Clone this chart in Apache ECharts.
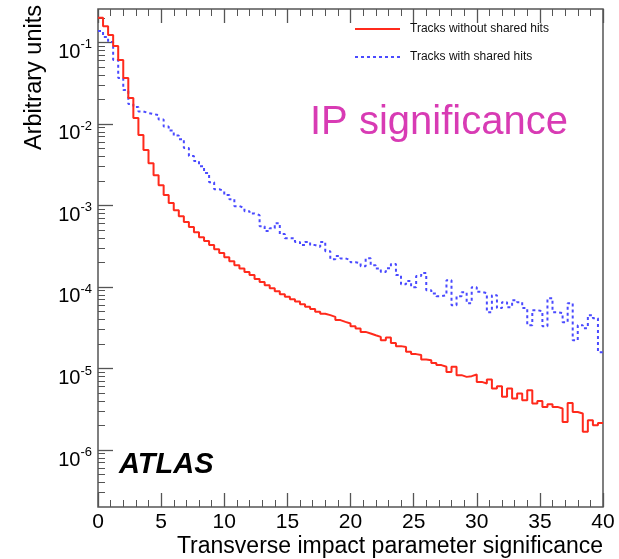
<!DOCTYPE html>
<html>
<head>
<meta charset="utf-8">
<script src="https://cdn.jsdelivr.net/npm/echarts@6/dist/echarts.min.js"></script>
<style>html,body{margin:0;padding:0;background:#fff}#c{width:619px;height:559px}</style>
</head>
<body>
<div id="c"></div>
<script>
// ---------- data ----------
const binLowEdges = [0,0.4,0.8,1.2,1.6,2,2.4,2.8,3.2,3.6,4,4.4,4.8,5.2,5.6,6,6.4,6.8,7.2,7.6,
  8,8.4,8.8,9.2,9.6,10,10.4,10.8,11.2,11.6,12,12.4,12.8,13.2,13.6,14,14.4,14.8,15.2,15.6,
  16,16.4,16.8,17.2,17.6,18,18.4,18.8,19.2,19.6,20,20.4,20.8,21.2,21.6,22,22.4,22.8,23.2,23.6,
  24,24.4,24.8,25.2,25.6,26,26.4,26.8,27.2,27.6,28,28.4,28.8,29.2,29.6,30,30.4,30.8,31.2,31.6,
  32,32.4,32.8,33.2,33.6,34,34.4,34.8,35.2,35.6,36,36.4,36.8,37.2,37.6,38,38.4,38.8,39.2,39.6];
const lastUpperEdge = 40;

const tracksWithoutShared = [0.20,0.158,0.123,0.0901,0.0607,0.0365,0.0207,0.0118,0.00729,0.00477,
  0.00330,0.00235,0.00177,0.00134,0.00107,8.75e-4,7.39e-4,6.24e-4,5.42e-4,4.70e-4,
  4.08e-4,3.65e-4,3.26e-4,2.91e-4,2.60e-4,2.32e-4,2.07e-4,1.85e-4,1.68e-4,1.52e-4,
  1.40e-4,1.25e-4,1.15e-4,1.05e-4,9.66e-5,8.87e-5,8.16e-5,7.60e-5,7.08e-5,6.61e-5,
  6.15e-5,5.73e-5,5.35e-5,4.98e-5,4.70e-5,4.51e-5,4.30e-5,3.92e-5,3.73e-5,3.56e-5,
  3.30e-5,3.10e-5,2.81e-5,2.69e-5,2.56e-5,2.44e-5,2.22e-5,2.40e-5,2.06e-5,1.88e-5,
  1.84e-5,1.60e-5,1.50e-5,1.46e-5,1.29e-5,1.26e-5,1.17e-5,1.10e-5,1.05e-5,9.08e-6,
  1.05e-5,8.28e-6,7.89e-6,8.05e-6,8.44e-6,6.85e-6,6.55e-6,7.33e-6,5.69e-6,6.07e-6,
  4.49e-6,5.69e-6,4.29e-6,4.93e-6,4.08e-6,5.42e-6,3.72e-6,4.00e-6,3.38e-6,3.65e-6,
  3.38e-6,3.23e-6,2.21e-6,3.78e-6,2.93e-6,2.81e-6,1.67e-6,2.32e-6,2.01e-6,2.15e-6];

const tracksWithShared = [0.138,0.116,0.101,0.0607,0.0365,0.0260,0.0175,0.0161,0.0142,0.0136,
  0.0132,0.0128,0.0113,0.00927,0.00828,0.00718,0.00650,0.00505,0.00403,0.00350,
  0.00303,0.00249,0.00193,0.00158,0.00150,0.00134,0.00119,9.80e-4,9.27e-4,8.51e-4,
  7.98e-4,7.60e-4,5.57e-4,4.84e-4,5.26e-4,6.06e-4,4.45e-4,3.97e-4,3.94e-4,3.57e-4,
  3.26e-4,3.57e-4,3.26e-4,3.10e-4,3.57e-4,2.75e-4,2.19e-4,2.39e-4,2.24e-4,2.13e-4,
  2.01e-4,1.96e-4,1.80e-4,2.25e-4,1.85e-4,1.68e-4,1.53e-4,1.69e-4,1.91e-4,1.40e-4,
  1.08e-4,1.18e-4,9.95e-5,1.36e-4,1.48e-4,9.14e-5,8.32e-5,7.71e-5,7.93e-5,1.21e-4,
  5.98e-5,7.71e-5,8.63e-5,6.32e-5,9.95e-5,8.71e-5,8.39e-5,4.91e-5,7.93e-5,5.50e-5,
  6.50e-5,5.65e-5,6.89e-5,6.50e-5,5.50e-5,3.40e-5,5.19e-5,5.05e-5,3.30e-5,7.29e-5,
  4.91e-5,4.77e-5,3.70e-5,6.32e-5,2.22e-5,3.40e-5,3.12e-5,4.51e-5,4.14e-5,1.58e-5];

const seriesNames = ['Tracks without shared hits', 'Tracks with shared hits'];
const xTickValues = [0, 5, 10, 15, 20, 25, 30, 35, 40];
const yTickExponents = [-6, -5, -4, -3, -2, -1];
const yRange = [2.0e-7, 0.2565];
const xTitle = 'Transverse impact parameter significance';
const yTitle = 'Arbitrary units';
// ---------- end data ----------

const FONT = "'Liberation Sans', Arial, Helvetica, sans-serif";
const yMin = Math.log10(yRange[0]), yMax = Math.log10(yRange[1]);

const yMinorTicks = [];
for (let n = -7; n <= 0; n++) {
  for (let k = 2; k <= 9; k++) {
    const v = n + Math.log10(k);
    if (v > yMin && v < yMax) yMinorTicks.push(v);
  }
}

function stepData(vals) {
  const pts = binLowEdges.map((x, i) => [x, Math.log10(vals[i])]);
  pts.push([lastUpperEdge, Math.log10(vals[vals.length - 1])]);
  return pts;
}

// legend icons: a solid line and a dashed line (unit box, stretched by the legend)
const solidIcon = 'path://M0,0H45V2H0Z';
let dashedPath = 'path://';
for (let i = 0; i < 45; i += 6) dashedPath += 'M' + i + ',0H' + (i + 3) + 'V2H' + i + 'Z';
dashedPath += 'M45,0H45.01V2H45Z';

const tickColor = '#555';
const chart = echarts.init(document.getElementById('c'), null, {renderer: 'canvas'});

const xAxisCommon = {
  type: 'value', min: xTickValues[0], max: xTickValues[xTickValues.length - 1], interval: 5,
  axisLine: {show: false},
  axisTick: {inside: true, length: 14, lineStyle: {color: tickColor, width: 1.3}},
  minorTick: {show: true, splitNumber: 5, length: 7, lineStyle: {color: tickColor, width: 1}},
  splitLine: {show: false}, minorSplitLine: {show: false}
};

chart.setOption({
  animation: false,
  textStyle: {fontFamily: FONT},
  grid: {left: 98, right: 16, top: 9, bottom: 52, show: true, borderColor: '#555', borderWidth: 1.5, backgroundColor: 'transparent'},
  legend: {
    orient: 'vertical', left: 355, top: 22, padding: 0,
    itemWidth: 45, itemHeight: 2, itemGap: 14,
    textStyle: {fontSize: 12, color: '#111', fontFamily: FONT, padding: [0, 0, 0, 5], lineHeight: 14},
    data: [
      {name: seriesNames[0], icon: solidIcon},
      {name: seriesNames[1], icon: dashedPath}
    ]
  },
  xAxis: [
    Object.assign({}, xAxisCommon, {
      position: 'bottom',
      axisLabel: {fontSize: 21, color: '#000', margin: 5, fontFamily: FONT},
      name: xTitle, nameLocation: 'end', nameGap: 0,
      nameTextStyle: {fontSize: 23, color: '#000', align: 'right', verticalAlign: 'top', padding: [28, 0, 0, 0], fontFamily: FONT}
    }),
    Object.assign({}, xAxisCommon, {position: 'top', axisLabel: {show: false}})
  ],
  yAxis: [
    {
      type: 'value', min: yMin, max: yMax, position: 'left',
      axisLine: {show: false},
      axisTick: {inside: true, length: 15, customValues: yTickExponents, lineStyle: {color: tickColor, width: 1.3}},
      axisLabel: {
        customValues: yTickExponents, margin: 6, color: '#000',
        formatter: v => '{b|10}{s|' + Math.round(v) + '}',
        rich: {
          b: {fontSize: 20, lineHeight: 20, padding: [20, 0, 0, 0], fontFamily: FONT, color: '#000'},
          s: {fontSize: 13, lineHeight: 13, padding: [16, 0, 11, 0], fontFamily: FONT, color: '#000'}
        }
      },
      splitLine: {show: false}
    },
    {
      type: 'value', min: yMin, max: yMax, position: 'left',
      axisLine: {show: false},
      axisTick: {inside: true, length: 7, customValues: yMinorTicks, lineStyle: {color: tickColor, width: 1}},
      axisLabel: {show: false},
      splitLine: {show: false}
    }
  ],
  graphic: [
    {type: 'text', x: 35, y: 5, rotation: Math.PI / 2,
     style: {text: yTitle, font: '23.5px ' + FONT, fill: '#000', align: 'right', verticalAlign: 'middle'}},
    {type: 'text', x: 310, y: 123,
     style: {text: 'IP significance', font: '40px ' + FONT, fill: '#d83bb4', align: 'left', verticalAlign: 'middle'}},
    {type: 'text', x: 119, y: 465,
     style: {text: 'ATLAS', font: 'italic bold 29px ' + FONT, fill: '#000', align: 'left', verticalAlign: 'middle'}}
  ],
  series: [
    {
      name: seriesNames[0], type: 'line', step: 'end', symbol: 'none',
      xAxisIndex: 0, yAxisIndex: 0, clip: true, z: 3,
      lineStyle: {color: '#ff2a1c', width: 2},
      itemStyle: {color: '#ff2a1c'},
      data: stepData(tracksWithoutShared)
    },
    {
      name: seriesNames[1], type: 'line', step: 'end', symbol: 'none',
      xAxisIndex: 0, yAxisIndex: 0, clip: true, z: 2,
      lineStyle: {color: '#4a4aff', width: 2, type: [3, 3]},
      itemStyle: {color: '#4a4aff'},
      data: stepData(tracksWithShared)
    }
  ]
});
</script>
</body>
</html>
